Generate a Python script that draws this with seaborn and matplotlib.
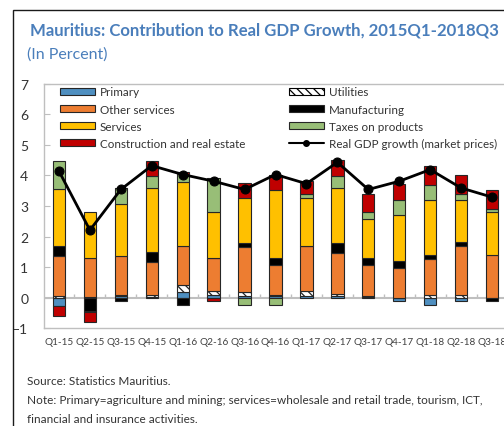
import numpy as np
import pandas as pd
import matplotlib
matplotlib.use("Agg")
import matplotlib.pyplot as plt
import seaborn as sns
from matplotlib.patches import Patch, Rectangle
from matplotlib.lines import Line2D

# data (contribution in percentage points)
quarters = ["Q1-15", "Q2-15", "Q3-15", "Q4-15", "Q1-16", "Q2-16", "Q3-16", "Q4-16",
            "Q1-17", "Q2-17", "Q3-17", "Q4-17", "Q1-18", "Q2-18", "Q3-18"]
primary = [-0.28, 0.00, 0.06, 0.04, 0.18, 0.10, 0.05, 0.06, 0.05, 0.05, 0.03, -0.11, -0.23, -0.11, 0.00]
utilities = [0.05, 0.02, 0.02, 0.06, 0.22, 0.12, 0.14, 0.04, 0.16, 0.06, 0.04, 0.00, 0.08, 0.10, 0.00]
other_services = [1.33, 1.28, 1.30, 1.06, 1.28, 1.08, 1.47, 0.98, 1.47, 1.36, 1.01, 0.97, 1.19, 1.58, 1.40]
manufacturing = [0.31, -0.44, -0.12, 0.32, -0.23, 0.00, 0.14, 0.23, 0.00, 0.33, 0.22, 0.22, 0.13, 0.14, -0.12]
services = [1.87, 1.52, 1.67, 2.10, 2.10, 1.52, 1.45, 2.20, 1.59, 1.79, 1.28, 1.50, 1.80, 1.39, 1.40]
taxes = [0.91, -0.04, 0.53, 0.39, 0.27, 1.09, -0.23, -0.23, 0.11, 0.39, 0.24, 0.51, 0.50, 0.17, 0.11]
construction = [-0.31, -0.32, 0.00, 0.51, 0.06, -0.10, 0.51, 0.49, 0.43, 0.51, 0.58, 0.53, 0.60, 0.62, 0.60]
gdp = [4.14, 2.21, 3.54, 4.32, 4.03, 3.81, 3.54, 4.03, 3.73, 4.43, 3.54, 3.81, 4.19, 3.59, 3.29]

sns.set_style("white")
plt.rcParams['font.family'] = ['Lato', 'DejaVu Sans']
plt.rcParams['hatch.linewidth'] = 0.9

W, H = 504, 427
fig = plt.figure(figsize=(W / 100, H / 100), dpi=100)
ax = fig.add_axes([43.5 / W, 1 - 329.3 / H, 464 / W, (329.3 - 84.7) / H])
renderer = fig.canvas.get_renderer()


def fit_size(text, target_px, size=10, **kw):
    # scale a font size so the text is about target_px wide
    t = fig.text(0, 0, text, fontsize=size, **kw)
    w = t.get_window_extent(renderer).width
    t.remove()
    return size * target_px / w


edge = "#262626"
series = [
    ("Primary", primary, "#4F8FC0", None),
    ("Utilities", utilities, "white", "\\\\\\\\"),
    ("Other services", other_services, "#ED7D31", None),
    ("Manufacturing", manufacturing, "black", None),
    ("Services", services, "#FFC000", None),
    ("Taxes on products", taxes, "#98BE77", None),
    ("Construction and real estate", construction, "#C00000", None),
]

# excel-style stacking: positives and negatives stacked separately
pos_base = np.zeros(len(quarters))
neg_base = np.zeros(len(quarters))
for name, vals, color, hatch in series:
    vals = np.asarray(vals, dtype=float)
    bottom = np.where(vals >= 0, pos_base, neg_base)
    df = pd.DataFrame({"quarter": quarters, "value": vals})
    sns.barplot(data=df, x="quarter", y="value", bottom=bottom, width=0.4,
                color=color, saturation=1, hatch=hatch, edgecolor=edge,
                linewidth=0.8, errorbar=None, ax=ax, zorder=3)
    pos_base += np.clip(vals, 0, None)
    neg_base += np.clip(vals, None, 0)

sns.lineplot(x=np.arange(len(quarters)), y=gdp, color="black", linewidth=2,
             marker="o", markersize=6.5, markeredgecolor="black", ax=ax, zorder=5)

# zero line with small category ticks
ax.axhline(0, color="#BFBFBF", lw=1.5, zorder=1)
ax.vlines(np.arange(len(quarters) - 1) + 0.5, 0, 0.12, color="#BFBFBF", lw=1, zorder=1)

xsize = fit_size("Q1-15", 29)
ax.set_xlim(-0.5, len(quarters) - 0.5)
ax.set_ylim(-1, 7)
ax.set_yticks(range(-1, 8))
ax.set_xticks(range(len(quarters)))
ax.set_xticklabels(quarters)
ax.set_xlabel("")
ax.set_ylabel("")
ax.tick_params(axis="y", direction="in", length=4.5, color="#BFBFBF", pad=11,
               labelsize=10, labelcolor="#333333", left=True)
ax.tick_params(axis="x", length=0, pad=6, labelsize=xsize, labelcolor="#404040")
for s in ax.spines.values():
    s.set_color("#BFBFBF")
    s.set_linewidth(1)

# legend in two separate columns
lsize = fit_size("Construction and real estate", 145)
leg_kw = dict(frameon=False, fontsize=lsize, handlelength=3.0, handleheight=0.5,
              handletextpad=0.4, labelspacing=0.52, borderpad=0, borderaxespad=0,
              labelcolor="#333333", bbox_transform=fig.transFigure, loc="upper left")
col1 = [Patch(facecolor="#4F8FC0", edgecolor=edge, lw=0.8),
        Patch(facecolor="#ED7D31", edgecolor=edge, lw=0.8),
        Patch(facecolor="#FFC000", edgecolor=edge, lw=0.8),
        Patch(facecolor="#C00000", edgecolor=edge, lw=0.8)]
col2 = [Patch(facecolor="white", edgecolor="black", hatch="\\\\\\\\", lw=0.8),
        Patch(facecolor="black", edgecolor=edge, lw=0.8),
        Patch(facecolor="#98BE77", edgecolor=edge, lw=0.8),
        Line2D([], [], color="black", lw=1.5, marker="o", markersize=4)]
leg1 = ax.legend(col1, ["Primary", "Other services", "Services", "Construction and real estate"],
                 bbox_to_anchor=(60 / W, 1 - 87.5 / H), **leg_kw)
ax.add_artist(leg1)
ax.legend(col2, ["Utilities", "Manufacturing", "Taxes on products", "Real GDP growth (market prices)"],
          bbox_to_anchor=(289 / W, 1 - 87.5 / H), numpoints=1, **leg_kw)

# titles and notes
blue = "#4A7EBB"
title = "Mauritius: Contribution to Real GDP Growth, 2015Q1-2018Q3"
fig.text(30 / W, 1 - 31 / H, title, fontsize=fit_size(title, 472, fontweight="bold"),
         fontweight="bold", color=blue, va="center", ha="left")
fig.text(27 / W, 1 - 55 / H, "(In Percent)", fontsize=fit_size("(In Percent)", 81),
         color=blue, va="center", ha="left")
note1 = "Note: Primary=agriculture and mining; services=wholesale and retail trade, tourism, ICT,"
note_kw = dict(fontsize=fit_size(note1, 451), color="#333333", va="center", ha="left")
fig.text(27 / W, 1 - 382 / H, "Source: Statistics Mauritius.", **note_kw)
fig.text(27 / W, 1 - 401 / H, note1, **note_kw)
fig.text(27 / W, 1 - 420 / H, "financial and insurance activities.", **note_kw)

# outer box of the figure panel
fig.patches.append(Rectangle((12.5 / W, -0.05), 1.0, 1.05 - 11 / H, transform=fig.transFigure,
                             fill=False, edgecolor="#1A1A1A", lw=1.0))

fig.savefig("out.png", dpi=100)
